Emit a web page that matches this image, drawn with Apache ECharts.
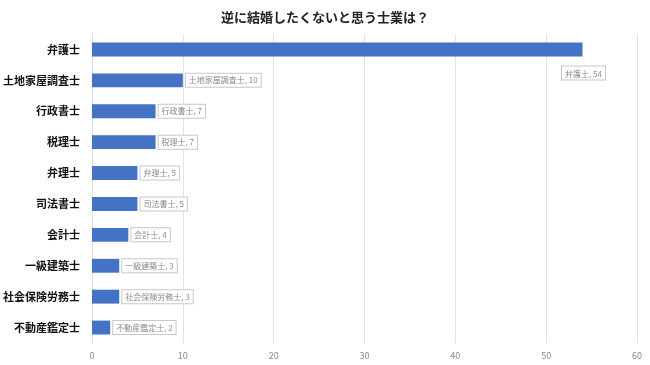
<!DOCTYPE html>
<html><head><meta charset="utf-8">
<script src="https://cdn.jsdelivr.net/npm/echarts@6/dist/echarts.min.js"></script>
<style>html,body{margin:0;padding:0;background:#fff}#c{width:650px;height:365px}</style>
</head><body><div id="c"></div>
<script>
const categories = ['弁護士','土地家屋調査士','行政書士','税理士','弁理士','司法書士','会計士','一級建築士','社会保険労務士','不動産鑑定士'];
const values = [54,10,7,7,5,5,4,3,3,2];
const xTicks = [0,10,20,30,40,50,60];

const chart = echarts.init(document.getElementById('c'));
const font = '"Noto Sans CJK JP", "Noto Sans", sans-serif';
chart.setOption({
  animation: false,
  title: { text: '逆に結婚したくないと思う士業は？', left: 'center', top: 6,
    textStyle: { fontFamily: font, fontSize: 13, fontWeight: 'bold', color: '#222' } },
  grid: { left: 92, right: 13, top: 34, bottom: 22, containLabel: false },
  xAxis: { type: 'value', min: xTicks[0], max: xTicks[xTicks.length-1], interval: 10,
    axisLine: { show: false }, axisTick: { show: false },
    splitLine: { lineStyle: { color: '#e3e3e3' } },
    axisLabel: { fontFamily: font, fontSize: 9, color: '#888', margin: 8 } },
  yAxis: { type: 'category', inverse: true, data: categories,
    axisLine: { lineStyle: { color: '#dcdcdc' } },
    axisTick: { lineStyle: { color: '#dcdcdc' }, length: 5 },
    axisLabel: { fontFamily: font, fontSize: 11, fontWeight: 'bold', color: '#111', margin: 12 } },
  series: [{
    type: 'bar', barWidth: '45%',
    itemStyle: { color: '#4472C4' },
    data: values.map((v, i) => {
      const d = { value: v };
      if (i === 0) d.label = { position: [470, 24] };
      return d;
    }),
    label: { show: true, position: 'right', distance: 3,
      formatter: p => p.name + ', ' + p.value,
      fontFamily: font, fontSize: 8, color: '#8a8a8a',
      backgroundColor: '#fff', borderColor: '#c8c8c8', borderWidth: 1,
      padding: [3, 3, 2, 3] }
  }]
});
</script></body></html>
